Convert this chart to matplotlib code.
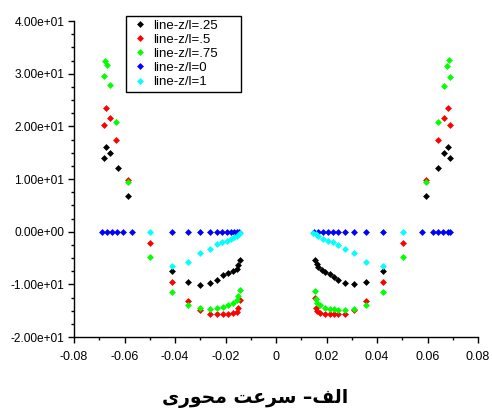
#!/usr/bin/env python3
import matplotlib
matplotlib.use("Agg")
import matplotlib.pyplot as plt
from matplotlib.ticker import FuncFormatter, MultipleLocator

# series (x position, axial velocity)
x_black = [-0.0681, -0.0673, -0.0657, -0.0626, -0.0586, -0.0413, -0.0350, -0.0301,
           -0.0261, -0.0235, -0.0209, -0.0189, -0.0169, -0.0156, -0.0149, -0.0143,
           0.0154, 0.0161, 0.0168, 0.0181, 0.0194, 0.0214, 0.0230, 0.0247, 0.0273,
           0.0310, 0.0356, 0.0423, 0.0594, 0.0643, 0.0665, 0.0682, 0.0689]
y_black = [13.9, 16.1, 14.9, 12.1, 6.7, -7.5, -9.5, -10.1,
           -9.8, -9.1, -8.3, -7.9, -7.4, -7.0, -6.3, -5.4,
           -5.4, -6.1, -6.8, -7.3, -7.7, -8.1, -8.6, -9.2, -9.7,
           -10.0, -9.5, -7.5, 6.7, 12.1, 14.9, 16.1, 13.9]

x_red = [-0.0681, -0.0673, -0.0657, -0.0634, -0.0586, -0.0499, -0.0413, -0.0350,
         -0.0301, -0.0261, -0.0235, -0.0209, -0.0189, -0.0169, -0.0156, -0.0149, -0.0143,
         0.0154, 0.0158, 0.0163, 0.0174, 0.0194, 0.0214, 0.0230, 0.0247, 0.0273,
         0.0310, 0.0356, 0.0423, 0.0504, 0.0594, 0.0643, 0.0665, 0.0682, 0.0689]
y_red = [20.3, 23.4, 21.5, 17.5, 9.8, -2.2, -9.5, -13.1,
         -14.8, -15.6, -15.7, -15.7, -15.6, -15.5, -15.2, -14.5, -13.0,
         -12.5, -14.4, -15.1, -15.5, -15.6, -15.6, -15.6, -15.6, -15.6,
         -14.8, -13.1, -9.5, -2.2, 9.8, 17.5, 21.5, 23.4, 20.3]

x_green = [-0.0682, -0.0677, -0.0671, -0.0658, -0.0634, -0.0586, -0.0499, -0.0413,
           -0.0350, -0.0301, -0.0261, -0.0235, -0.0209, -0.0189, -0.0169, -0.0156,
           -0.0149, -0.0143,
           0.0154, 0.0158, 0.0163, 0.0174, 0.0194, 0.0214, 0.0230, 0.0247, 0.0273,
           0.0310, 0.0356, 0.0423, 0.0504, 0.0594, 0.0643, 0.0665, 0.0678, 0.0686, 0.0689]
y_green = [29.5, 32.4, 31.6, 27.9, 20.9, 9.5, -4.9, -11.5,
           -14.0, -14.5, -14.6, -14.5, -14.3, -14.0, -13.6, -12.9,
           -12.3, -11.1,
           -11.2, -12.8, -13.6, -14.0, -14.4, -14.6, -14.7, -14.8, -14.9,
           -14.6, -14.0, -11.5, -4.9, 9.5, 20.9, 27.7, 31.4, 32.6, 29.4]

x_blue = [-0.0690, -0.0670, -0.0651, -0.0628, -0.0604, -0.0569, -0.0411, -0.0350,
          -0.0301, -0.0261, -0.0235, -0.0215, -0.0195, -0.0179, -0.0166, -0.0155, -0.0145,
          0.0150, 0.0165, 0.0185, 0.0205, 0.0227, 0.0247, 0.0275, 0.0310, 0.0356,
          0.0424, 0.0580, 0.0620, 0.0640, 0.0660, 0.0680, 0.0690]
y_blue = [0.0] * len(x_blue)

x_cyan = [-0.0499, -0.0413, -0.0350, -0.0301, -0.0261, -0.0235, -0.0215, -0.0195,
          -0.0180, -0.0166, -0.0153, -0.0143,
          0.0148, 0.0158, 0.0168, 0.0187, 0.0207, 0.0227, 0.0247, 0.0273, 0.0310,
          0.0356, 0.0423, 0.0504]
y_cyan = [0.0, -6.6, -5.8, -4.1, -3.2, -2.3, -2.0, -1.7,
          -1.4, -1.1, -0.8, -0.2,
          -0.2, -0.5, -0.8, -1.4, -1.7, -2.0, -2.5, -3.3, -4.0,
          -5.7, -6.5, 0.0]

labels = ["line-z/l=.25", "line-z/l=.5", "line-z/l=.75", "line-z/l=0", "line-z/l=1"]
colors = ["#000000", "#ff0000", "#00ff00", "#0000ff", "#00ffff"]

# caption "الف– سرعت محوری" written in visual order with presentation forms,
# since matplotlib does no Arabic shaping
caption = ("\uFEEF\uFEAD\uFEEE\uFEA4\uFEE3 \uFE96\uFECB\uFEAE\uFEB3 "
           "\u2013\uFED2\uFEDF\uFE8D")

plt.rcParams["font.family"] = ["Liberation Sans", "DejaVu Sans"]

fig = plt.figure(figsize=(4.92, 4.12), dpi=100)
ax = fig.add_axes([74 / 492, 75 / 412, 404 / 492, 316 / 412])

series = [(x_black, y_black), (x_red, y_red), (x_green, y_green),
          (x_blue, y_blue), (x_cyan, y_cyan)]
for (xs, ys), c, lab in zip(series, colors, labels):
    ax.plot(xs, ys, linestyle="none", marker="D", markersize=3.5,
            markeredgewidth=0, color=c, label=lab)

ax.set_xlim(-0.08, 0.08)
ax.set_ylim(-20, 40)

ax.xaxis.set_major_locator(MultipleLocator(0.02))
ax.xaxis.set_minor_locator(MultipleLocator(0.01))
ax.yaxis.set_major_locator(MultipleLocator(10))
ax.yaxis.set_minor_locator(MultipleLocator(2.5))
ax.xaxis.set_major_formatter(FuncFormatter(lambda v, p: "0" if abs(v) < 1e-9 else "%.2f" % v))
ax.yaxis.set_major_formatter(FuncFormatter(lambda v, p: "%.2e" % v))

for side in ("top", "right"):
    ax.spines[side].set_visible(False)
for side in ("left", "bottom"):
    ax.spines[side].set_linewidth(1.0)

ax.tick_params(which="major", direction="out", length=4, width=1, pad=2)
ax.tick_params(which="minor", direction="out", length=2.2, width=1)
ax.tick_params(axis="x", labelsize=9, pad=6)
ax.tick_params(axis="y", labelsize=8.6, pad=3)

# legend box spans a fixed width, like the original
leg = ax.legend(loc="upper left", bbox_to_anchor=(0.129, 0.5, 0.285, 0.517),
                mode="expand", borderaxespad=0,
                fontsize=9.5, numpoints=1, handlelength=1.45, handletextpad=0.3,
                labelspacing=0.14, borderpad=0.3, fancybox=False, framealpha=1,
                edgecolor="black")
leg.get_frame().set_linewidth(1.0)

fig.text(255 / 492, 13 / 412, caption, ha="center", va="center", fontsize=13.5,
         fontweight="bold", family="DejaVu Sans")

fig.savefig("out.png", dpi=100)
